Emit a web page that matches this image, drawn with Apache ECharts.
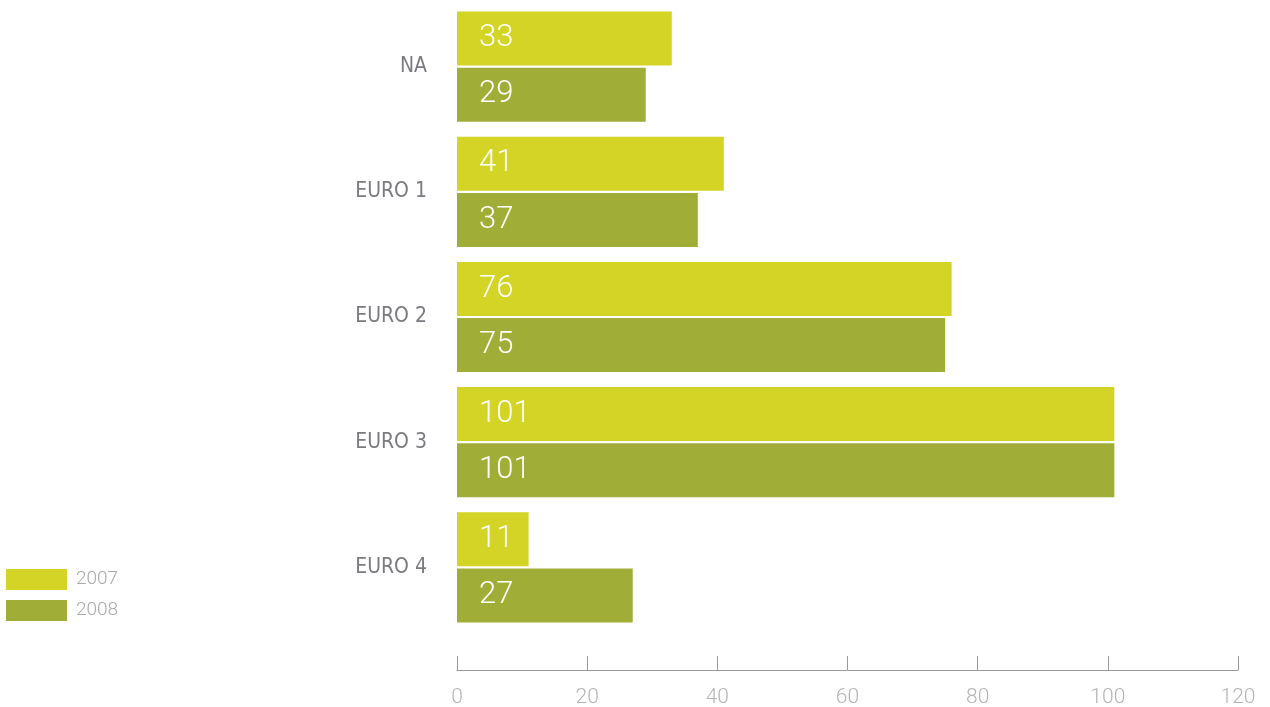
<!DOCTYPE html>
<html>
<head>
<meta charset="utf-8">
<title>Emission classes 2007 / 2008</title>
<script src="https://cdn.jsdelivr.net/npm/echarts@6/dist/echarts.min.js"></script>
<style>
  html, body { margin: 0; padding: 0; background: #ffffff; }
  #chart { width: 1270px; height: 707px; }
</style>
</head>
<body>
<div id="chart"></div>
<script>
// Vehicle counts per emission class
const categories = ['NA', 'EURO 1', 'EURO 2', 'EURO 3', 'EURO 4'];
const values2007 = [33, 41, 76, 101, 11];
const values2008 = [29, 37, 75, 101, 27];
const xTicks = [0, 20, 40, 60, 80, 100, 120];

const labelFont = "'Roboto', 'Lato', sans-serif";
const catFont = "'DejaVu Sans Condensed', 'Liberation Sans Narrow', sans-serif";

const chart = echarts.init(document.getElementById('chart'));

const valueLabel = {
  show: true,
  position: 'insideLeft',
  distance: 22,
  color: '#ffffff',
  fontFamily: labelFont,
  fontWeight: 300,
  fontSize: 31
};

chart.setOption({
  animation: false,
  grid: { left: 457, right: 32, top: 4, bottom: 77, containLabel: false, outerBoundsMode: 'none' },
  legend: {
    orient: 'vertical',
    left: 6,
    top: 569,
    padding: 0,
    icon: 'rect',
    itemWidth: 61,
    itemHeight: 21,
    itemGap: 10,
    textStyle: { color: '#a8a8a8', fontFamily: labelFont, fontWeight: 300, fontSize: 19, padding: [3, 0, 0, 4] },
    data: ['2007', '2008']
  },
  xAxis: {
    type: 'value',
    min: xTicks[0],
    max: xTicks[xTicks.length - 1],
    interval: 20,
    offset: 40,
    axisLine: { show: true, lineStyle: { color: '#9a9a9a', width: 1 } },
    axisTick: { show: true, inside: true, length: 14, lineStyle: { color: '#9a9a9a' } },
    splitLine: { show: false },
    axisLabel: { color: '#b4b4b4', fontFamily: labelFont, fontWeight: 300, fontSize: 21, margin: 17 }
  },
  yAxis: {
    type: 'category',
    inverse: true,
    data: categories,
    axisLine: { show: false },
    axisTick: { show: false },
    axisLabel: { color: '#7a7a80', fontFamily: catFont, fontSize: 21, margin: 30, padding: [8, 0, 0, 0] }
  },
  series: [
    {
      name: '2007',
      type: 'bar',
      data: values2007,
      barWidth: 54,
      barGap: '4%',
      itemStyle: { color: '#d4d426' },
      label: valueLabel
    },
    {
      name: '2008',
      type: 'bar',
      data: values2008,
      barWidth: 54,
      itemStyle: { color: '#a0ad37' },
      label: valueLabel
    }
  ]
});
</script>
</body>
</html>
